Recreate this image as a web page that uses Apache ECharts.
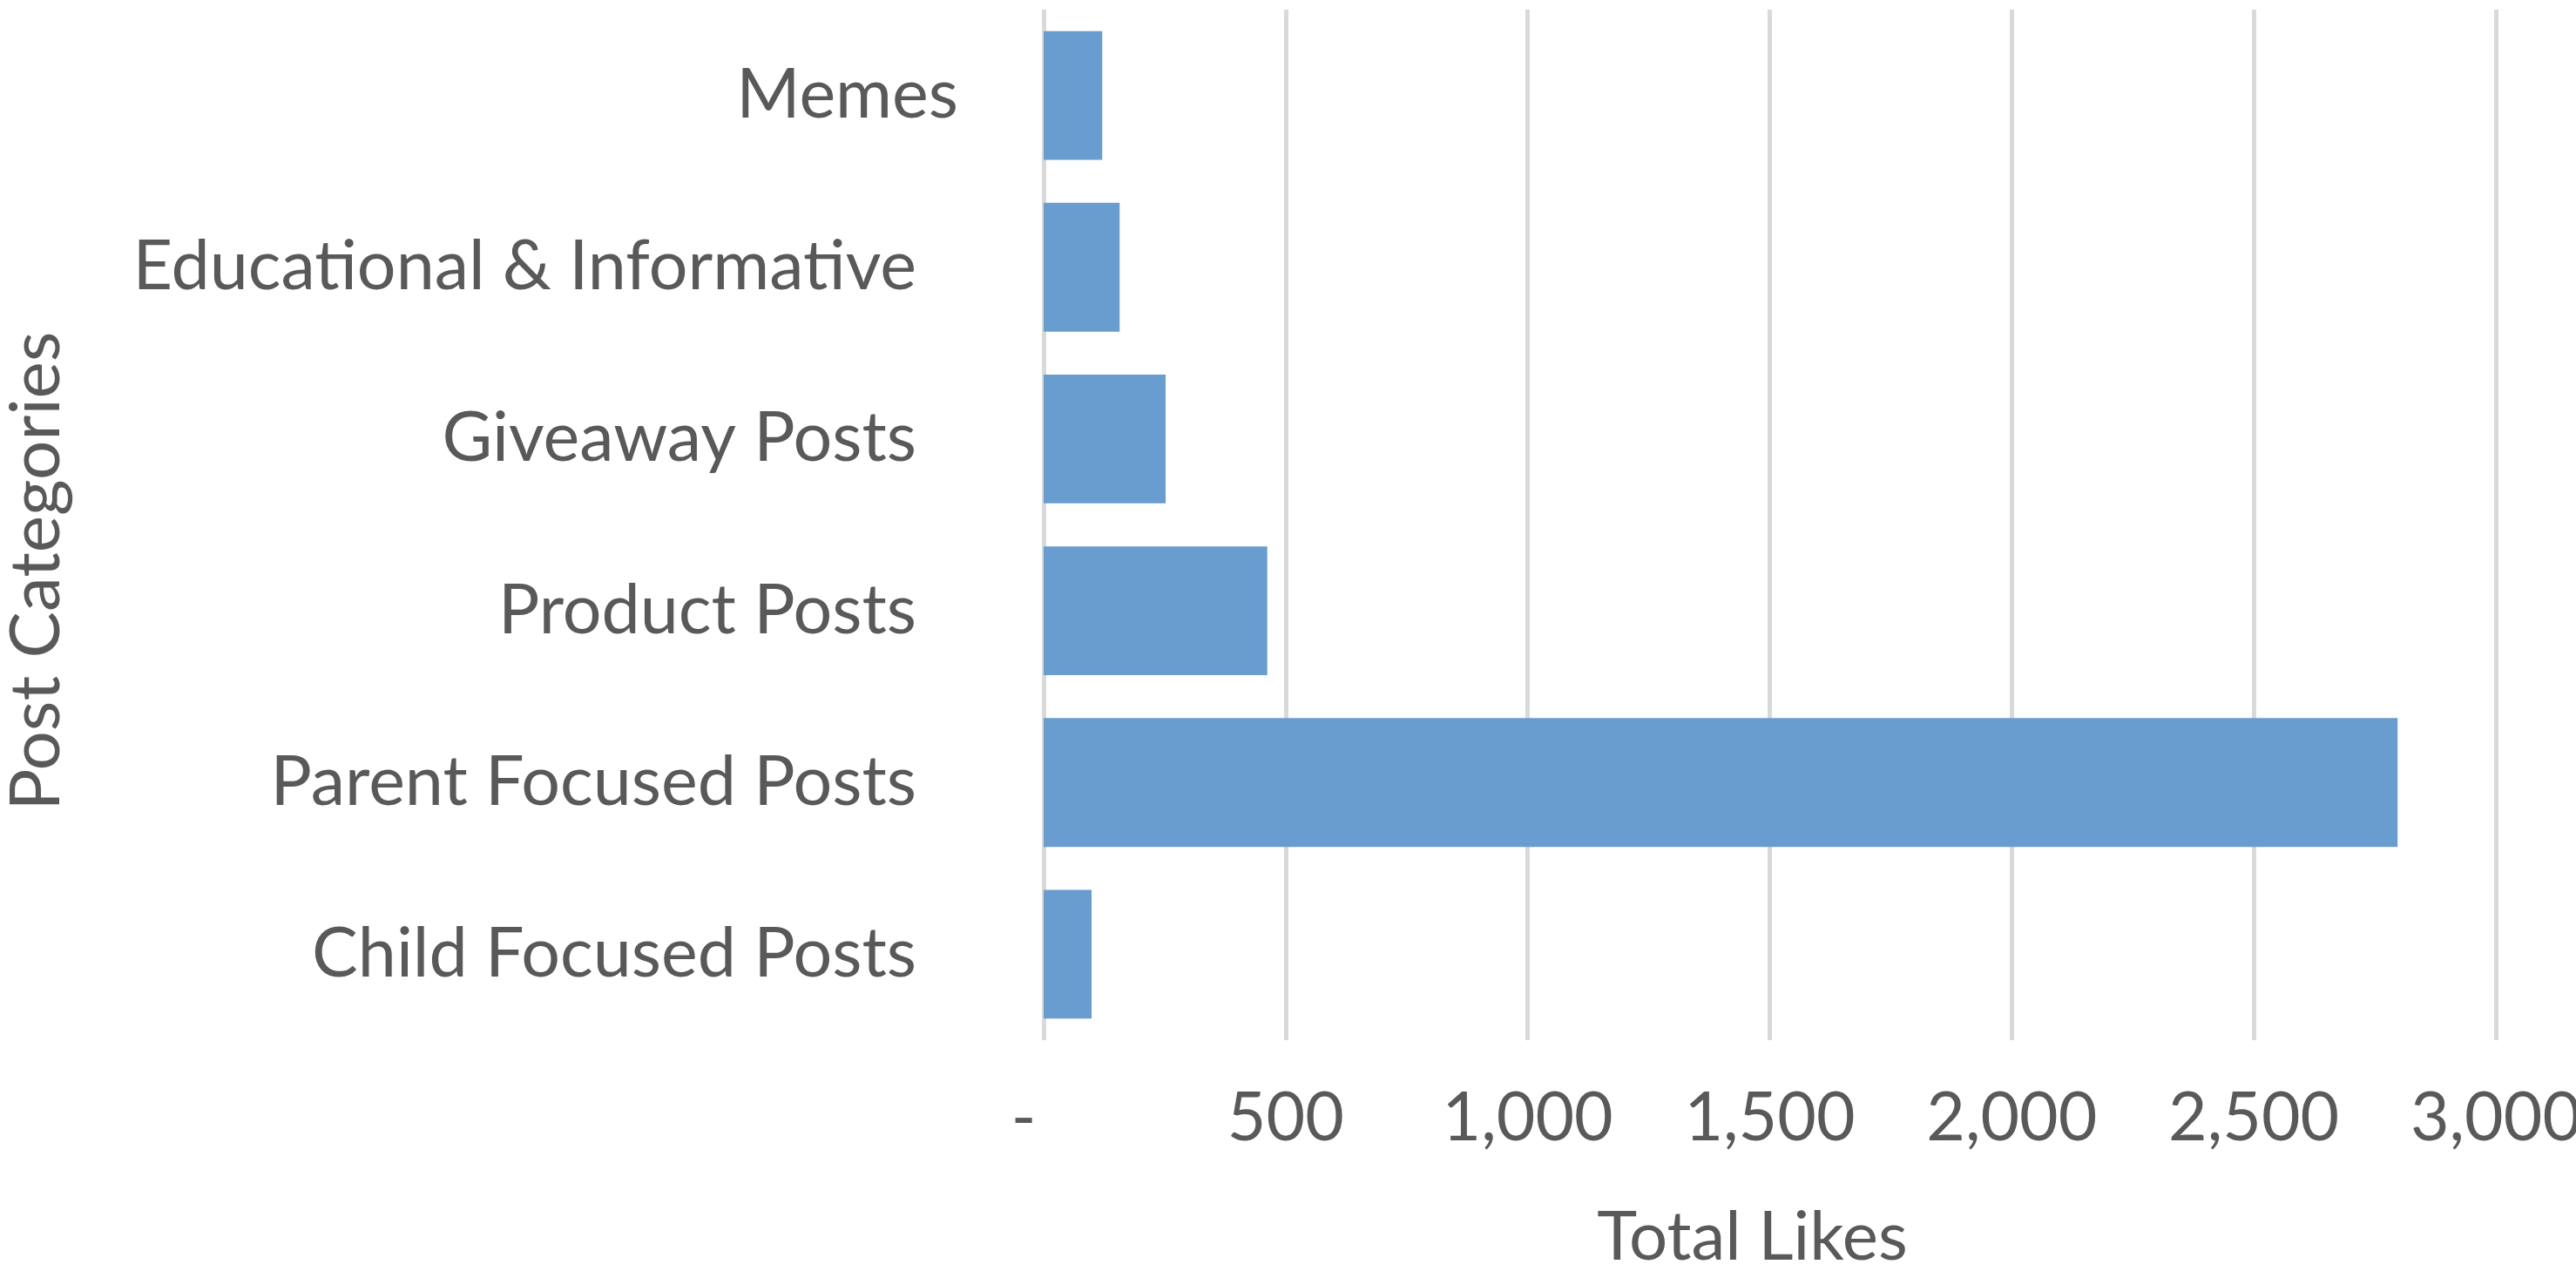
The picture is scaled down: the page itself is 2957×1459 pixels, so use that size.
<!DOCTYPE html>
<html>
<head>
<meta charset="utf-8">
<title>Total Likes by Post Category</title>
<script src="https://cdn.jsdelivr.net/npm/echarts@6/dist/echarts.min.js"></script>
<style>
  html, body { margin: 0; padding: 0; background: #ffffff; }
  #chart { width: 2957px; height: 1459px; }
</style>
</head>
<body>
<div id="chart"></div>
<script>
// Post categories, listed top to bottom
const categories = [
  'Memes',
  'Educational & Informative',
  'Giveaway Posts',
  'Product Posts',
  'Parent Focused Posts',
  'Child Focused Posts'
];

// Total likes per category
const totalLikes = [121, 157, 252, 462, 2797, 99];

// Value axis range
const likesMin = 0;
const likesMax = 3000;
const likesStep = 500;

const textColor = '#595959';
const fontFamily = 'Lato, "Open Sans", sans-serif';

const chart = echarts.init(document.getElementById('chart'), null, { renderer: 'canvas' });

chart.setOption({
  backgroundColor: '#ffffff',
  animation: false,
  grid: { left: 1198, right: 92, top: 11, bottom: 265, containLabel: false, outerBoundsMode: 'none' },
  xAxis: {
    type: 'value',
    min: likesMin,
    max: likesMax,
    interval: likesStep,
    name: 'Total Likes',
    nameLocation: 'middle',
    nameGap: 188,
    nameTextStyle: { color: textColor, fontSize: 78, fontFamily: fontFamily, padding: [0, 40, 0, 0] },
    axisLine: { show: false },
    axisTick: { show: false },
    axisLabel: {
      color: textColor,
      fontSize: 77,
      fontFamily: fontFamily,
      margin: 52,
      formatter: function (v) {
        // zero is shown as a dash, the rest with thousands separators
        return v === 0 ? '{z|-}' : v.toLocaleString('en-US');
      },
      rich: {
        z: { color: textColor, fontSize: 77, fontFamily: fontFamily, padding: [0, 46, 0, 0] }
      }
    },
    splitLine: { show: true, showMinLine: true, lineStyle: { color: '#d9d9d9', width: 5 } }
  },
  yAxis: {
    type: 'category',
    data: categories,
    inverse: true,
    name: 'Post Categories',
    nameLocation: 'middle',
    nameGap: 1116,
    nameRotate: 90,
    nameTextStyle: { color: textColor, fontSize: 80, fontFamily: fontFamily, padding: [0, 106, 0, 0] },
    axisLine: { show: false },
    axisTick: { show: false },
    axisLabel: {
      color: textColor,
      fontSize: 79,
      fontFamily: fontFamily,
      margin: 98,
      formatter: function (name) {
        return name === 'Memes' ? '{m|' + name + '}' : '{p|' + name + '}';
      },
      rich: {
        m: { color: textColor, fontSize: 79, fontFamily: fontFamily },
        p: { color: textColor, fontSize: 79, fontFamily: fontFamily, padding: [0, 48, 0, 0] }
      }
    },
    splitLine: { show: false }
  },
  series: [{
    type: 'bar',
    data: totalLikes,
    barCategoryGap: '25%',
    itemStyle: { color: '#699ccf' }
  }]
});
</script>
</body>
</html>
